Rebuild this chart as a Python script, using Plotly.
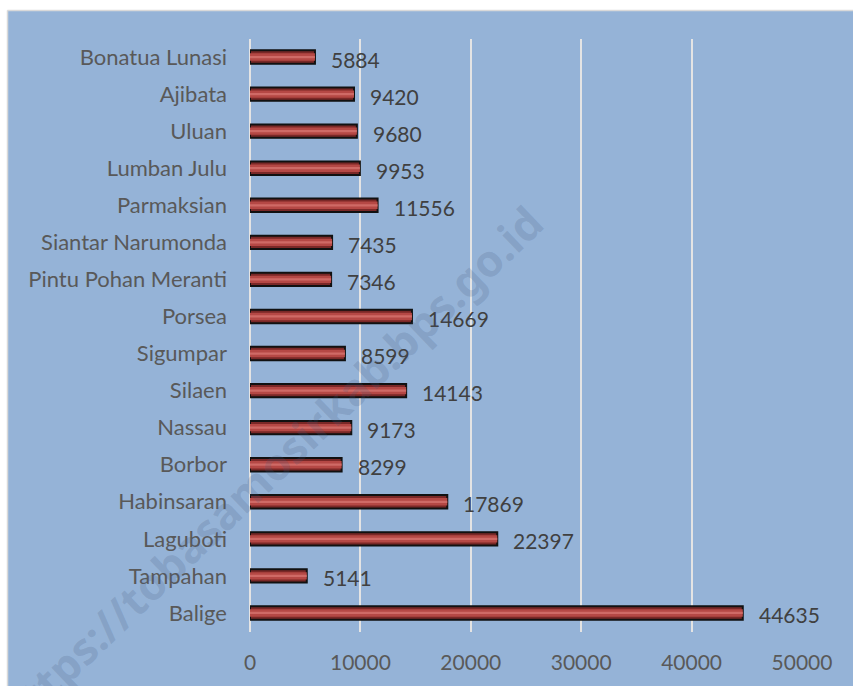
import plotly.graph_objects as go

categories = ["Balige", "Tampahan", "Laguboti", "Habinsaran", "Borbor", "Nassau",
              "Silaen", "Sigumpar", "Porsea", "Pintu Pohan Meranti", "Siantar Narumonda",
              "Parmaksian", "Lumban Julu", "Uluan", "Ajibata", "Bonatua Lunasi"]
values = [44635, 5141, 22397, 17869, 8299, 9173, 14143, 8599, 14669, 7346, 7435,
          11556, 9953, 9680, 9420, 5884]
x_ticks = [0, 10000, 20000, 30000, 40000, 50000]

W, H = 853, 686
BG = "#95B3D7"
FONT = "Lato"
FS = 21

fig = go.Figure()
# main bar (dark edge + black outline)
fig.add_trace(go.Bar(y=categories, x=values, orientation="h", width=0.36,
                     marker=dict(color="#7A2827", line=dict(color="#111111", width=2)),
                     hoverinfo="x+y", showlegend=False))
# inner lighter body
fig.add_trace(go.Bar(y=categories, x=values, orientation="h", width=0.2,
                     marker=dict(color="#B54845", line=dict(width=0)),
                     hoverinfo="skip", showlegend=False))
# highlight stripe
fig.add_trace(go.Bar(y=categories, x=values, orientation="h", width=0.06,
                     marker=dict(color="#CF6A66", line=dict(width=0)),
                     hoverinfo="skip", showlegend=False))

annotations = []
for c, v in zip(categories, values):
    annotations.append(dict(x=v, y=c, xref="x", yref="y", text=str(v), showarrow=False,
                            xanchor="left", yanchor="middle", xshift=14, yshift=-2,
                            font=dict(family=FONT, size=FS, color="#404040")))

# watermark
annotations.append(dict(x=270 / W, y=1 - 468 / H, xref="paper", yref="paper",
                        text="<b>https://tobasamosirkab.bps.go.id</b>", showarrow=False,
                        textangle=-43.8, xanchor="center", yanchor="middle",
                        font=dict(family="Noto Sans", size=44, color="rgba(70,90,125,0.2)")))

x0p, y1p = 7.5 / W, 1 - 10.5 / H
fig.update_layout(
    width=W, height=H,
    margin=dict(l=0, r=0, t=0, b=0),
    paper_bgcolor="white",
    plot_bgcolor="rgba(0,0,0,0)",
    barmode="overlay",
    bargap=0.6,
    font=dict(family=FONT, size=FS, color="#595959"),
    shapes=[
        dict(type="rect", xref="paper", yref="paper", layer="below",
             x0=x0p, x1=1, y0=0, y1=y1p, fillcolor=BG, line=dict(width=0)),
        dict(type="line", xref="paper", yref="paper", layer="below",
             x0=x0p, x1=x0p, y0=0, y1=y1p, line=dict(color="#D9D9D9", width=1.5)),
        dict(type="line", xref="paper", yref="paper", layer="below",
             x0=x0p, x1=1, y0=y1p, y1=y1p, line=dict(color="#D9D9D9", width=1.5)),
    ],
    annotations=annotations,
    xaxis=dict(domain=[250 / W, 802 / W], range=[0, 50000], tickvals=x_ticks,
               ticktext=[str(t) for t in x_ticks],
               showgrid=True, gridcolor="#E4E4E4", gridwidth=1.5,
               zeroline=True, zerolinecolor="#E4E4E4", zerolinewidth=1.5,
               showline=False, ticks="", ticklabelstandoff=16, automargin=False,
               tickfont=dict(family=FONT, size=FS, color="#595959"), fixedrange=True),
    yaxis=dict(domain=[1 - 631.5 / H, 1 - 38.5 / H], type="category",
               showgrid=False, zeroline=False, showline=False, ticks="",
               ticklabelstandoff=22, automargin=False,
               tickfont=dict(family=FONT, size=22, color="#595959"), fixedrange=True),
)

fig.write_html("out.html", config={"displayModeBar": False},
               post_script="document.body.style.margin='0';document.body.style.overflow='hidden';")
